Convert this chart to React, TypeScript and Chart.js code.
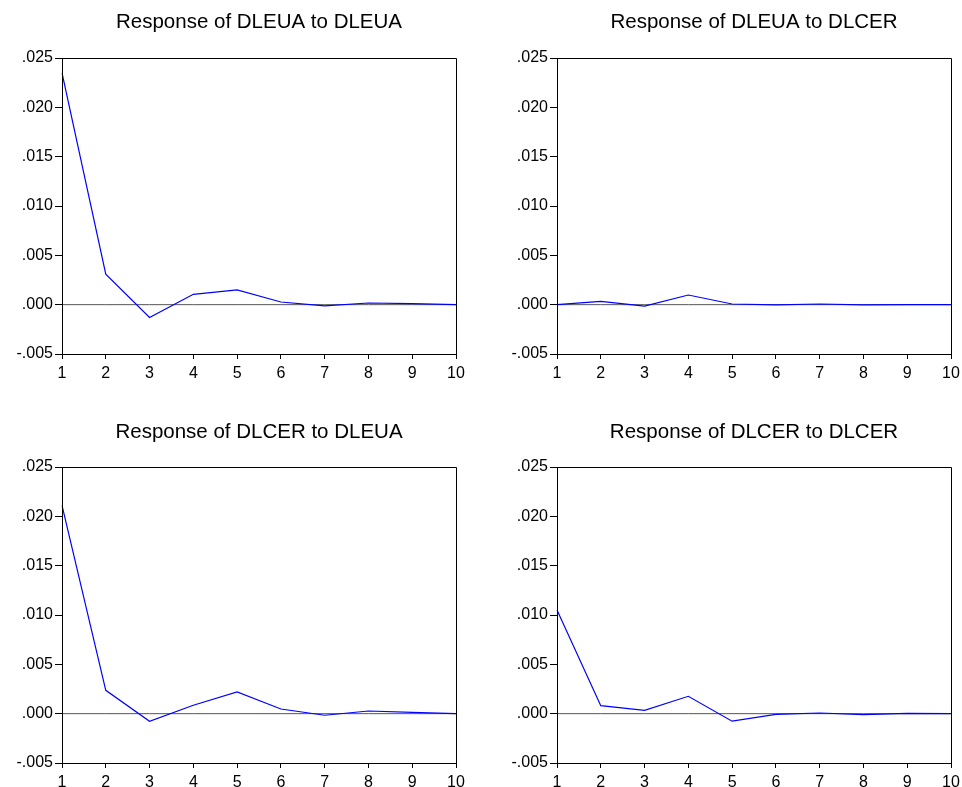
import React, { useEffect, useRef } from "react";
import { Chart, registerables } from "chart.js";

Chart.register(...registerables);

const periods = ["1", "2", "3", "4", "5", "6", "7", "8", "9", "10"];
const yTickMin = -0.005;
const yTickMax = 0.025;
const yTickStep = 0.005;

const dleuaToDleua = [0.0235, 0.0031, -0.0013, 0.00105, 0.0015, 0.00027, -0.00012, 0.00017, 0.0001, 0.0];
const dleuaToDlcer = [0.0, 0.00034, -0.00014, 0.00098, 0.00007, -0.00003, 0.00007, -0.00002, 0.0, 0.0];
const dlcerToDleua = [0.0211, 0.00237, -0.00078, 0.00085, 0.0022, 0.00047, -0.00016, 0.00027, 0.00014, 0.0];
const dlcerToDlcer = [0.0105, 0.00081, 0.00034, 0.00176, -0.00076, -0.00007, 0.00007, -0.0001, 0.00003, 0.0];
const zeroLine = [0, 0, 0, 0, 0, 0, 0, 0, 0, 0];

const titles = [
  "Response of DLEUA to DLEUA",
  "Response of DLEUA to DLCER",
  "Response of DLCER to DLEUA",
  "Response of DLCER to DLCER",
];
const seriesList = [dleuaToDleua, dleuaToDlcer, dlcerToDleua, dlcerToDlcer];

const FONT = "'Liberation Sans', Arial, sans-serif";

type Panel = {
  left: number;
  top: number;
  width: number;
  height: number;
  plotLeft: number;
  plotRight: number;
  plotTop: number;
  plotBottom: number;
  titleY: number;
};

const panels: Panel[] = [
  { left: 0, top: 0, width: 481, height: 393, plotLeft: 62, plotRight: 456, plotTop: 58, plotBottom: 354, titleY: 22 },
  { left: 481, top: 0, width: 481, height: 393, plotLeft: 76, plotRight: 470, plotTop: 58, plotBottom: 354, titleY: 22 },
  { left: 0, top: 393, width: 481, height: 394, plotLeft: 62, plotRight: 456, plotTop: 74, plotBottom: 370, titleY: 39 },
  { left: 481, top: 393, width: 481, height: 394, plotLeft: 76, plotRight: 470, plotTop: 74, plotBottom: 370, titleY: 39 },
];

const framePlugin = {
  id: "frame",
  afterDatasetsDraw(chart: any) {
    const { ctx, chartArea } = chart;
    ctx.save();
    ctx.strokeStyle = "#000";
    ctx.lineWidth = 1;
    const l = Math.round(chartArea.left) + 0.5;
    const t = Math.round(chartArea.top) + 0.5;
    const r = Math.round(chartArea.right) + 0.5;
    const b = Math.round(chartArea.bottom) + 0.5;
    ctx.beginPath();
    ctx.moveTo(l, b);
    ctx.lineTo(l, t);
    ctx.lineTo(r, t);
    ctx.lineTo(r, b);
    ctx.lineTo(l, b);
    ctx.stroke();
    ctx.restore();
  },
};

function fmt(v: number) {
  const s = Number(v).toFixed(3);
  return s.replace(/^(-?)0\./, "$1.");
}

function PanelChart({ panel, title, series }: { panel: Panel; title: string; series: number[] }) {
  const ref = useRef<HTMLCanvasElement | null>(null);
  useEffect(() => {
    if (!ref.current) return;
    const titleSize = 20.5;
    const titleLine = titleSize * 1.2;
    const padTop = panel.titleY - titleLine / 2;
    const padBottom = panel.plotTop - padTop - titleLine;
    const chart = new Chart(ref.current, {
      type: "line",
      data: {
        labels: periods,
        datasets: [
          {
            data: series,
            borderColor: "#0000ff",
            borderWidth: 1.2,
            pointRadius: 0,
            tension: 0,
            fill: false,
            order: 0,
          },
          {
            data: zeroLine,
            borderColor: "#555555",
            borderWidth: 1,
            pointRadius: 0,
            fill: false,
            order: 1,
          },
        ],
      },
      options: {
        responsive: false,
        animation: false,
        layout: {
          padding: { left: 0, right: panel.width - panel.plotRight, top: 0, bottom: 0 },
        },
        plugins: {
          legend: { display: false },
          tooltip: { enabled: false },
          title: {
            display: true,
            text: title,
            fullSize: false,
            color: "#000",
            font: { family: FONT, size: titleSize, weight: "normal" },
            padding: { top: padTop, bottom: padBottom },
          },
        },
        scales: {
          x: {
            type: "category",
            offset: false,
            grid: {
              drawOnChartArea: false,
              drawTicks: true,
              tickLength: 5,
              color: "#000",
            },
            border: { display: true, color: "#000", width: 1 },
            ticks: {
              color: "#000",
              font: { family: FONT, size: 16 },
              padding: 5,
              maxRotation: 0,
              autoSkip: false,
            },
            afterFit(scale: any) {
              scale.height = panel.height - panel.plotBottom;
              scale.paddingLeft = 0;
              scale.paddingRight = 0;
            },
          },
          y: {
            type: "linear",
            min: yTickMin,
            max: yTickMax,
            grid: {
              drawOnChartArea: false,
              drawTicks: true,
              tickLength: 7,
              color: "#000",
            },
            border: { display: true, color: "#000", width: 1 },
            ticks: {
              stepSize: yTickStep,
              color: "#000",
              font: { family: FONT, size: 16 },
              padding: 2,
              callback: (v: any) => fmt(Number(v)),
            },
            afterFit(scale: any) {
              scale.width = panel.plotLeft;
              scale.paddingTop = 0;
              scale.paddingBottom = 0;
            },
          },
        },
      } as any,
      plugins: [framePlugin],
    });
    return () => chart.destroy();
  }, [panel, title, series]);
  return (
    <canvas
      ref={ref}
      width={panel.width}
      height={panel.height}
      style={{ position: "absolute", left: panel.left, top: panel.top, width: panel.width, height: panel.height }}
    />
  );
}

export default function App() {
  return (
    <div style={{ position: "absolute", left: 0, top: 0, width: 962, height: 787, background: "#fff", overflow: "hidden" }}>
      {panels.map((p, i) => (
        <PanelChart key={i} panel={p} title={titles[i]} series={seriesList[i]} />
      ))}
    </div>
  );
}
